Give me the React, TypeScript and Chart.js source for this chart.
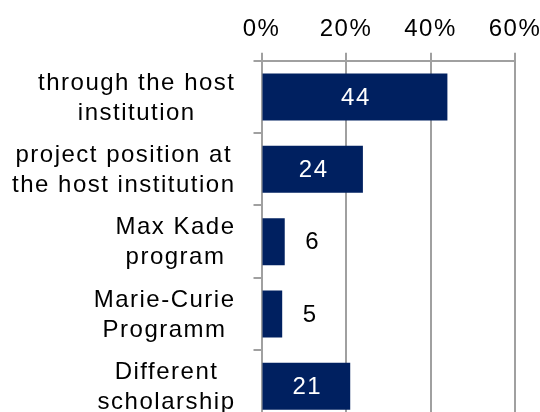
import React, { useEffect, useRef } from "react";
import { Chart, registerables } from "chart.js";

Chart.register(...registerables);

const categories: string[][] = [
  ["through the host", "institution"],
  ["project position at", "the host institution"],
  ["Max Kade", "program"],
  ["Marie-Curie", "Programm"],
  ["Different", "scholarship"],
];
const values: number[] = [44, 24, 5.5, 4.9, 21];
const valueLabels: string[] = ["44", "24", "6", "5", "21"];
const xTickStep = 20;
const xMin = 0;
const xMax = 60;

const FONT_FAMILY = "'Liberation Sans', Arial, sans-serif";
const BAR_COLOR = "#002060";
const GRID_COLOR = "#a0a0a0";
const LETTER_SPACING = "1.5px";

const labelPlugin = {
  id: "customLabels",
  beforeDraw(chart: any) {
    (chart.ctx as any).letterSpacing = LETTER_SPACING;
  },
  afterDraw(chart: any) {
    const ctx = chart.ctx as CanvasRenderingContext2D;
    const yScale = chart.scales.y;
    const meta = chart.getDatasetMeta(0);
    ctx.save();
    (ctx as any).letterSpacing = LETTER_SPACING;
    ctx.font = `24px ${FONT_FAMILY}`;
    ctx.textBaseline = "middle";

    const rightX = yScale.left - 18;
    const lineH = 30;
    categories.forEach((lines, i) => {
      const cy = yScale.getPixelForValue(i) + 1;
      const widest = Math.max(...lines.map((l) => ctx.measureText(l).width));
      const cx = rightX - widest / 2;
      ctx.fillStyle = "#000000";
      ctx.textAlign = "center";
      const y0 = cy - ((lines.length - 1) * lineH) / 2;
      lines.forEach((l, k) => ctx.fillText(l, cx, y0 + k * lineH));
    });

    meta.data.forEach((el: any, i: number) => {
      const v = values[i];
      ctx.textAlign = "center";
      if (v >= 10) {
        ctx.fillStyle = "#ffffff";
        ctx.fillText(valueLabels[i], (el.x + el.base) / 2 + 1, el.y + 1);
      } else {
        ctx.fillStyle = "#000000";
        ctx.fillText(valueLabels[i], el.x + 28, el.y + 1);
      }
    });
    ctx.restore();
  },
};

export default function App() {
  const canvasRef = useRef<HTMLCanvasElement | null>(null);

  useEffect(() => {
    if (!canvasRef.current) return;
    const chart = new Chart(canvasRef.current, {
      type: "bar",
      data: {
        labels: categories,
        datasets: [
          {
            data: values,
            backgroundColor: BAR_COLOR,
            borderWidth: 0,
            barPercentage: 0.65,
            categoryPercentage: 1,
          },
        ],
      },
      options: {
        indexAxis: "y",
        animation: false,
        responsive: false,
        devicePixelRatio: 1,
        layout: { padding: { top: 6, left: 253.5, right: 25, bottom: 1.5 } },
        plugins: {
          legend: { display: false },
          tooltip: { enabled: false },
          title: { display: false },
        },
        scales: {
          x: {
            position: "top",
            min: xMin,
            max: xMax,
            afterFit: (scale: any) => {
              scale.paddingRight = 0;
              scale.paddingLeft = 0;
            },
            ticks: {
              stepSize: xTickStep,
              callback: (v: any) => `${v}%`,
              color: "#000000",
              padding: 9,
              font: { family: FONT_FAMILY, size: 24, lineHeight: 1.2 },
            },
            grid: {
              color: GRID_COLOR,
              lineWidth: 2,
              tickLength: 8,
              drawTicks: true,
            },
            border: { color: GRID_COLOR, width: 2 },
          },
          y: {
            ticks: { display: false },
            grid: {
              color: GRID_COLOR,
              lineWidth: 2,
              tickLength: 8,
              drawTicks: true,
              drawOnChartArea: false,
            },
            border: { color: GRID_COLOR, width: 2 },
          },
        },
      },
      plugins: [labelPlugin],
    } as any);
    return () => chart.destroy();
  }, []);

  return (
    <div
      style={{
        position: "absolute",
        left: 0,
        top: 0,
        width: 540,
        height: 412,
        overflow: "hidden",
        background: "#ffffff",
      }}
    >
      <canvas ref={canvasRef} width={540} height={424} style={{ display: "block" }} />
    </div>
  );
}
